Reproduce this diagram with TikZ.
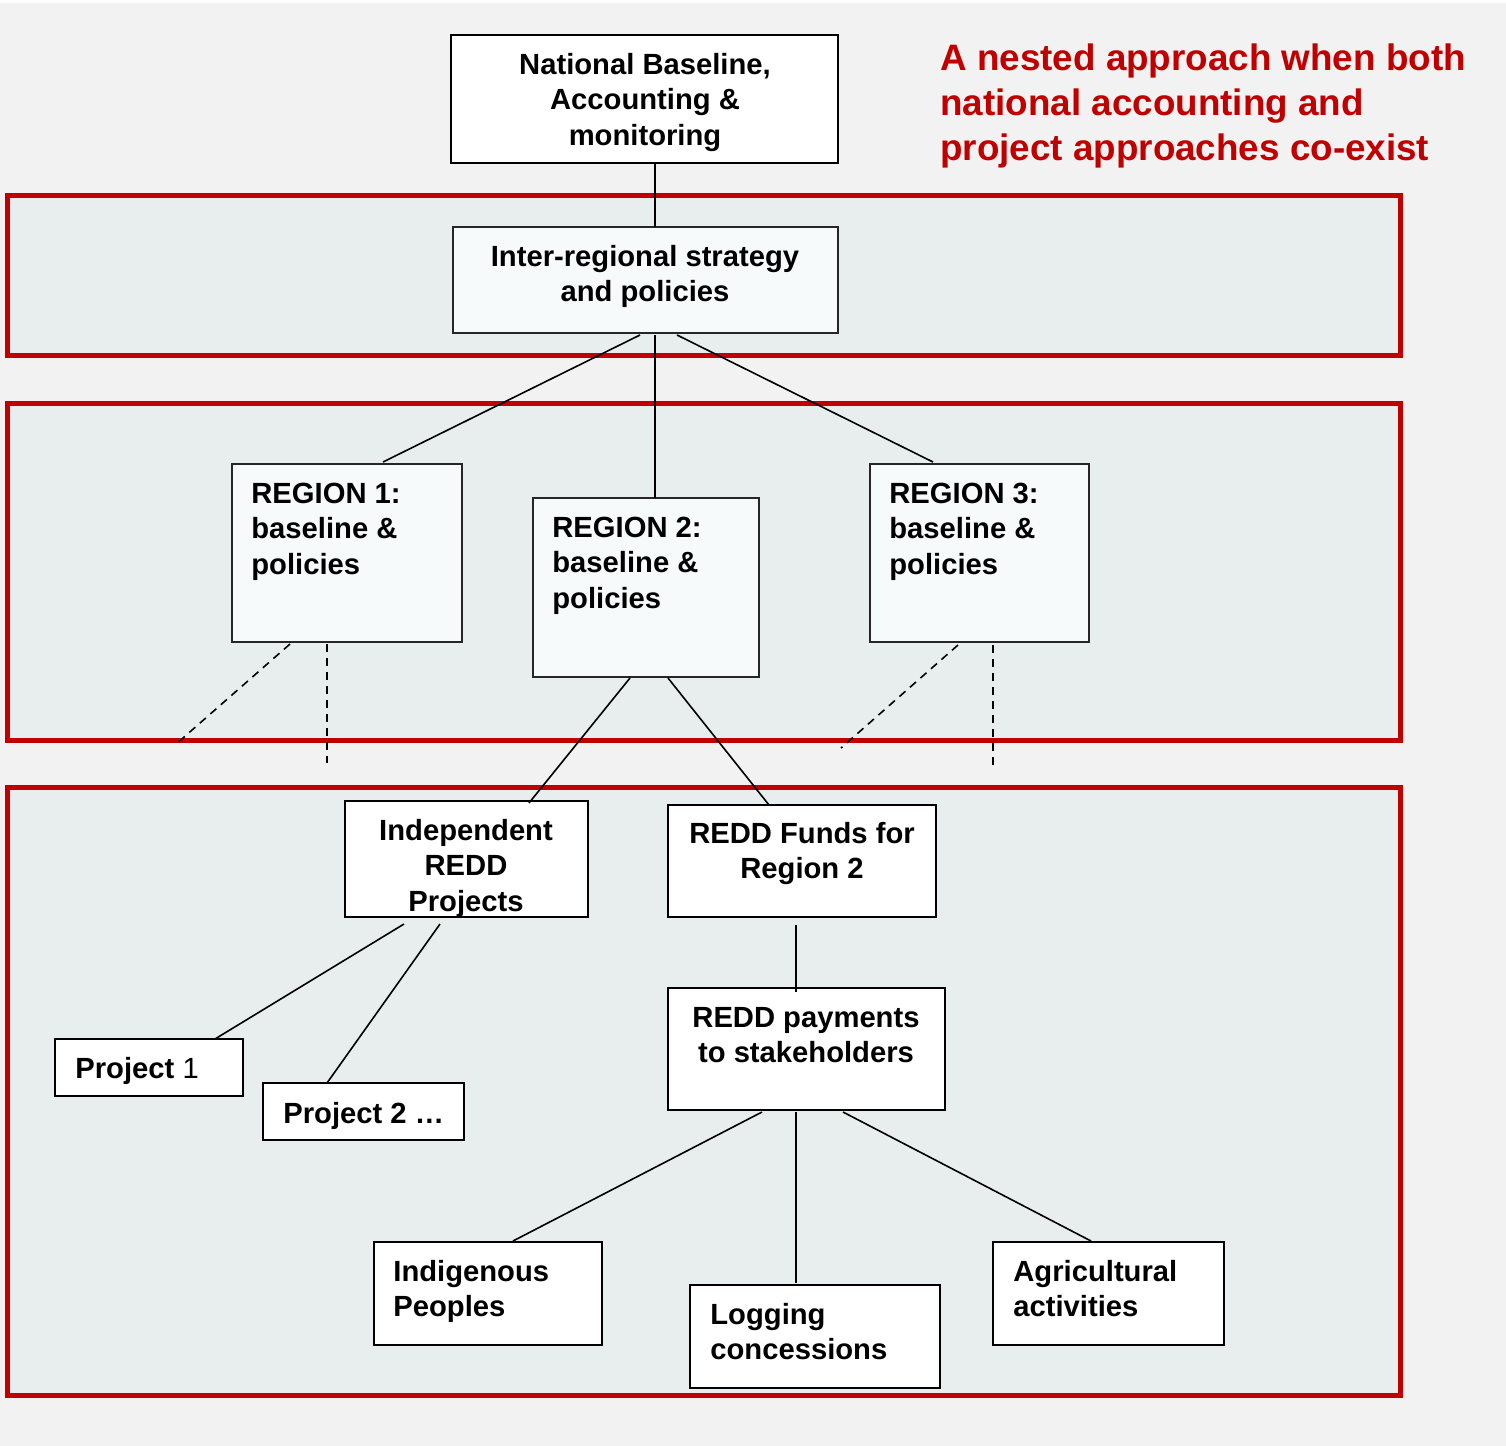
\documentclass[tikz,border=0pt]{standalone}
\usepackage{fontspec}
\setmainfont{Liberation Sans}
\usetikzlibrary{calc}
\definecolor{bgc}{HTML}{F2F2F2}
\definecolor{bandc}{HTML}{E8EEEE}
\definecolor{regc}{HTML}{F6FAFA}
\definecolor{redc}{HTML}{C00000}
\begin{document}
\begin{tikzpicture}[x=0.5pt,y=-0.5pt,
  band/.style={draw=redc, line width=2.5pt, fill=bandc, inner sep=0, outer sep=0, anchor=north west},
  box/.style={draw=black, line width=1pt, fill=white, inner sep=0, outer sep=0, anchor=north west},
  regbox/.style={draw=black!85, line width=0.75pt, fill=regc, inner sep=0, outer sep=0, anchor=north west},
  txt/.style={font=\fontsize{14.6}{17.75}\selectfont\bfseries, inner sep=0},
  ltxt/.style={txt, align=left, anchor=base west},
  ctxt/.style={txt, align=center, anchor=base},
  link/.style={line width=0.8pt},
  dlink/.style={line width=0.8pt, dash pattern=on 4pt off 3pt}]
\useasboundingbox (0,0) rectangle (1506,1446);
\fill[bgc] (0,0) rectangle (1506,1446);
\fill[white] (0,0) rectangle (1506,3);

% bands
\node[band, minimum width=696.5pt, minimum height=80pt] (b1) at (7.5,195) {};
\node[band, minimum width=696.5pt, minimum height=168.5pt] (b2) at (7.5,403) {};
\node[band, minimum width=696.5pt, minimum height=304pt] (b3) at (7.5,787) {};

% boxes
\node[box, minimum width=193.5pt, minimum height=64pt] (nat) at (451,35) {};
\node[regbox, minimum width=192.5pt, minimum height=53pt] (inter) at (453,227) {};
\node[regbox, minimum width=115pt, minimum height=89pt] (r1) at (232,464) {};
\node[regbox, minimum width=113pt, minimum height=89.5pt] (r2) at (533,498) {};
\node[regbox, minimum width=109.5pt, minimum height=89pt] (r3) at (870,464) {};
\node[box, minimum width=121.5pt, minimum height=58pt] (ind) at (345,801) {};
\node[box, minimum width=134pt, minimum height=56pt] (fund) at (668,805) {};
\node[box, minimum width=138.5pt, minimum height=61pt] (pay) at (668,988) {};
\node[box, minimum width=94pt, minimum height=28.5pt] (p1) at (55,1039) {};
\node[box, minimum width=100.5pt, minimum height=28.5pt] (p2) at (263,1083) {};
\node[box, minimum width=114pt, minimum height=51.5pt] (ip) at (374,1242) {};
\node[box, minimum width=125pt, minimum height=51.5pt] (log) at (690,1285) {};
\node[box, minimum width=115.5pt, minimum height=51.5pt] (agr) at (993,1242) {};

% texts (anchor = baseline of last line)
\node[ctxt] (natt) at (645,145) {National Baseline,\\Accounting \&\\monitoring};
\node[ctxt] (intert) at (645,301.5) {Inter-regional strategy\\and policies};
\node[ltxt] (r1t) at (251,574) {REGION 1:\\baseline \&\\policies};
\node[ltxt] (r2t) at (552,608) {REGION 2:\\baseline \&\\policies};
\node[ltxt] (r3t) at (889,574) {REGION 3:\\baseline \&\\policies};
\node[ctxt] (indt) at (466,911) {Independent\\REDD\\Projects};
\node[ctxt] (fundt) at (802,878.5) {REDD Funds for\\Region 2};
\node[ctxt] (payt) at (806,1062.5) {REDD payments\\to stakeholders};
\node[ltxt] (p1t) at (75,1078) {Project \mdseries 1};
\node[ltxt] (p2t) at (283,1123) {Project 2 …};
\node[ltxt] (ipt) at (393,1316.5) {Indigenous\\Peoples};
\node[ltxt] (logt) at (710,1359.5) {Logging\\concessions};
\node[ltxt] (agrt) at (1013,1316.5) {Agricultural\\activities};

\node[font=\fontsize{18.4}{22.3}\selectfont\bfseries, text=redc, align=left, anchor=base west, inner sep=0] (title) at (940,160)
  {A nested approach when both\\national accounting and\\project approaches co-exist};

% connectors
\draw[link] ($(nat.south west)+(204,0)$) -- ($(inter.north west)+(202,0)$);
\draw[link] ($(inter.south west)+(187,2)$) -- ($(r1.north west)+(151,-2)$);
\draw[link] ($(inter.south west)+(202,2)$) -- ($(r2.north west)+(122,0)$);
\draw[link] ($(inter.south west)+(224,2)$) -- ($(r3.north west)+(63,-2)$);

\coordinate (d1) at (175,745);
\coordinate (d2) at (327,763);
\coordinate (d3) at (841,748);
\coordinate (d4) at (993,766);
\draw[dlink] ($(r1.south west)+(58,2)$) -- (d1);
\draw[dlink] ($(r1.south west)+(95,2)$) -- (d2);
\draw[dlink] ($(r3.south west)+(88,3)$) -- (d3);
\draw[dlink] ($(r3.south west)+(123,3)$) -- (d4);

\draw[link] ($(r2.south west)+(97,1)$) -- ($(ind.north west)+(184,2)$);
\draw[link] ($(r2.south west)+(135,1)$) -- ($(fund.north west)+(101,0)$);

\draw[link] ($(ind.south west)+(59,7)$) -- ($(p1.north west)+(160,0)$);
\draw[link] ($(ind.south west)+(95,7)$) -- ($(p2.north west)+(64,0)$);

\draw[link, line width=1pt] ($(fund.south west)+(128,8)$) -- ($(pay.north west)+(128,4)$);

\draw[link] ($(pay.south west)+(94,2)$) -- ($(ip.north west)+(139,-1)$);
\draw[link, line width=1pt] ($(pay.south west)+(128,2)$) -- ($(log.north west)+(106,-2)$);
\draw[link] ($(pay.south west)+(175,2)$) -- ($(agr.north west)+(98,-1)$);
\end{tikzpicture}
\end{document}
